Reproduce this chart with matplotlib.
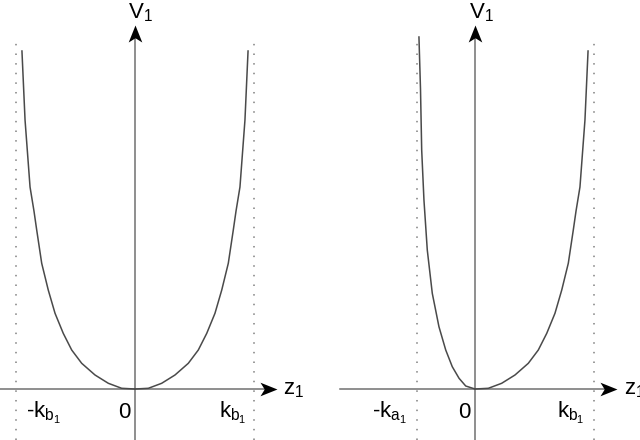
import numpy as np
import matplotlib.pyplot as plt
from matplotlib.path import Path

plt.rcParams['font.family'] = ['Liberation Sans', 'DejaVu Sans']
plt.rcParams['mathtext.fontset'] = 'custom'
plt.rcParams['mathtext.rm'] = 'Liberation Sans'
plt.rcParams['mathtext.it'] = 'Liberation Sans'

# -------------------------------------------------
# data (z in units of k_b1, V in arbitrary units)
# -------------------------------------------------
kb1 = 1.0
ka1 = 0.49

# branch towards +k_b1 (also mirrored for the symmetric left panel)
zb = [0, 0.112, 0.224, 0.336, 0.448, 0.532, 0.603, 0.672, 0.729, 0.784,
      0.826, 0.849, 0.882, 0.924, 0.950]
vb = [0, 0.007, 0.057, 0.14, 0.257, 0.39, 0.557, 0.757, 0.99, 1.257,
      1.59, 1.78, 2.02, 2.69, 3.38]

# branch towards -k_a1 (right panel)
za = [0, -0.078, -0.134, -0.191, -0.246, -0.303, -0.359, -0.401, -0.429,
      -0.448, -0.458, -0.471]
va = [0, 0.03, 0.107, 0.223, 0.39, 0.623, 0.957, 1.39, 1.89, 2.39, 3.0, 3.52]

# -------------------------------------------------
# layout (pixels of a 640x440 figure)
# -------------------------------------------------
W, H = 640, 440
PX_Z, PX_V = 119.0, 100.0   # pixels per unit
Y0 = 389                    # x-axis row

fig = plt.figure(figsize=(6.4, 4.4), dpi=100)

# stealth style arrow head, pointing up / right
up = Path([(0, 0), (-0.4, -1), (0, -0.75), (0.4, -1), (0, 0)],
          [Path.MOVETO, Path.LINETO, Path.LINETO, Path.LINETO, Path.CLOSEPOLY])
right = Path([(0, 0), (-1, 0.4), (-0.75, 0), (-1, -0.4), (0, 0)],
             [Path.MOVETO, Path.LINETO, Path.LINETO, Path.LINETO, Path.CLOSEPOLY])


def panel(left_px, x0_px, branches, asym, labels):
    ax = fig.add_axes([left_px / W, 0, 320 / W, 1])
    ax.set_xlim((left_px - x0_px) / PX_Z, (left_px + 320 - x0_px) / PX_Z)
    ax.set_ylim((Y0 - H) / PX_V, Y0 / PX_V)
    ax.axis('off')

    # axes with arrows
    x_lo, x_hi = -1.134, 1.193
    v_lo, v_hi = -0.51, 3.64
    ax.plot([x_lo, x_hi - 0.1], [0, 0], color='#707070', lw=1.1, zorder=2)
    ax.plot([0, 0], [v_lo, v_hi - 0.12], color='#707070', lw=1.1, zorder=2)
    ax.plot(x_hi, 0, marker=right, ms=24.5, color='black', mew=0, zorder=4)
    ax.plot(0, v_hi, marker=up, ms=24.5, color='black', mew=0, zorder=4)

    # asymptotes
    ax.vlines(asym, -0.51, 3.51, colors='#808080', lw=1.1,
              linestyles=[(0, (1, 5.3))], zorder=1)

    for z, v in branches:
        ax.plot(z, v, color='#4a4a4a', lw=1.1, zorder=3,
                solid_joinstyle='round')

    for x, y, s in labels:
        fig.text(x / W, 1 - y / H, s, fontsize=16, ha='left', va='baseline')
    return ax


panel(0, 135,
      [(-np.array(zb), vb), (zb, vb)],
      [-kb1, kb1],
      [(128, 18, r'V$_1$'), (283, 394, r'z$_1$'),
       (26, 418, r'-k$_{b_1}$'), (118, 418, '0'), (219, 418, r'k$_{b_1}$')])

panel(320, 475,
      [(za, va), (zb, vb)],
      [-ka1, kb1],
      [(469, 18, r'V$_1$'), (624, 394, r'z$_1$'),
       (372, 418, r'-k$_{a_1}$'), (458, 418, '0'), (557, 418, r'k$_{b_1}$')])

plt.savefig('out.png', dpi=100)
